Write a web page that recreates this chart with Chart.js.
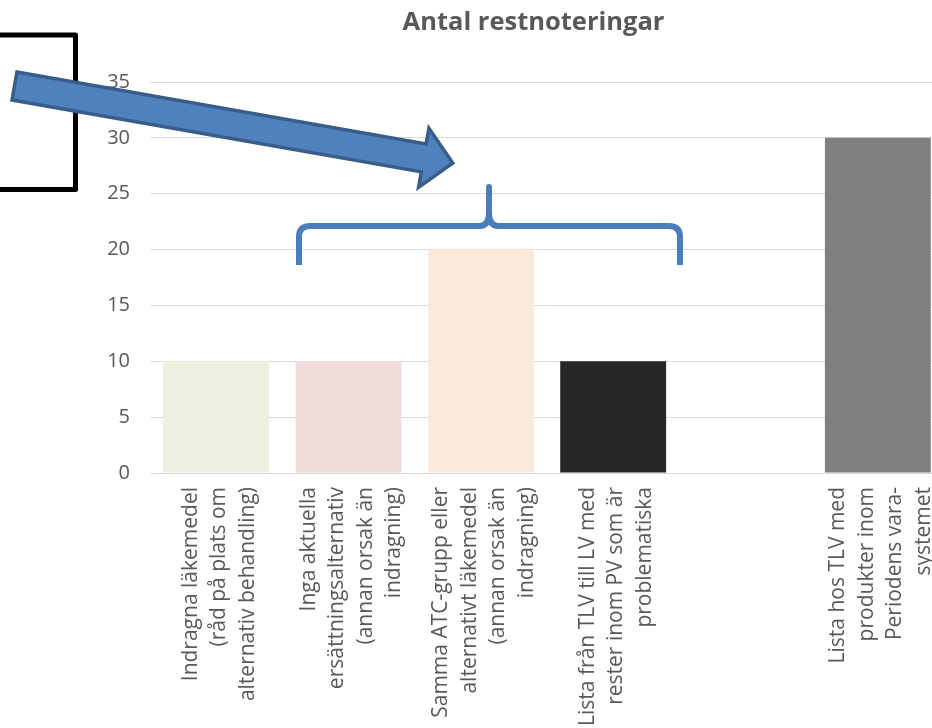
<!DOCTYPE html>
<html>
<head>
<meta charset="utf-8">
<title>Antal restnoteringar</title>
<script src="https://cdn.jsdelivr.net/npm/chart.js@4/dist/chart.umd.min.js"></script>
<style>
  html, body { margin: 0; padding: 0; background: #ffffff; overflow: hidden; }
  #wrap { position: relative; width: 932px; height: 728px; overflow: hidden; }
  #wrap canvas { position: absolute; left: 0; top: 0; }
</style>
</head>
<body>
<div id="wrap"><canvas id="chart" width="960" height="728"></canvas></div>
<script>
// Category labels, one entry per bar, already broken into lines
const categories = [
  ['Indragna läkemedel', '(råd på plats om', 'alternativ behandling)'],
  ['Inga aktuella', 'ersättningsalternativ', '(annan orsak än', 'indragning)'],
  ['Samma ATC-grupp eller', 'alternativt läkemedel', '(annan orsak än', 'indragning)'],
  ['Lista från TLV till LV med', 'rester inom PV som är', 'problematiska'],
  [],
  ['Lista hos TLV med', 'produkter inom', 'Periodens vara-', 'systemet']
];

// Number of shortage notices per category (the fifth slot is left empty)
const values = [10, 10, 20, 10, null, 30];

// Fill colour of each bar
const barColors = ['#ebf1de', '#f2dcdb', '#fde9d9', '#262626', '#ffffff', '#7f7f7f'];

// Value axis
const yMin = 0;
const yMax = 35;
const yStep = 5;

const chartTitle = 'Antal restnoteringar';

const TEXT_GREY = '#595959';
const FONT = '"Open Sans", "DejaVu Sans", sans-serif';

// Chart heading, centred over the slide area rather than the plot area
const heading = {
  id: 'heading',
  afterDraw(chart) {
    const ctx = chart.ctx;
    ctx.save();
    ctx.font = 'bold 25.5px ' + FONT;
    ctx.fillStyle = TEXT_GREY;
    ctx.textAlign = 'center';
    ctx.textBaseline = 'middle';
    ctx.fillText(chartTitle, 533.5, 23);
    ctx.restore();
  }
};

// Rotated, multi-line category labels centred under each bar
const categoryLabels = {
  id: 'categoryLabels',
  afterDraw(chart) {
    const ctx = chart.ctx;
    const xs = chart.scales.x;
    const lineH = 28.6;
    ctx.save();
    ctx.font = '21px ' + FONT;
    ctx.fillStyle = TEXT_GREY;
    ctx.textAlign = 'right';
    ctx.textBaseline = 'alphabetic';
    categories.forEach((lines, i) => {
      const cx = xs.getPixelForValue(i);
      const n = lines.length;
      lines.forEach((line, j) => {
        const bx = cx + 9 + (j - (n - 1) / 2) * lineH;
        ctx.save();
        ctx.translate(bx, xs.top + 14);
        ctx.rotate(-Math.PI / 2);
        ctx.fillText(line, 0, 0);
        ctx.restore();
      });
    });
    ctx.restore();
  }
};

// Slide callouts drawn on top of the chart: frame, block arrow and brace
const callouts = {
  id: 'callouts',
  afterDraw(chart) {
    const ctx = chart.ctx;

    // black frame running off the left edge
    ctx.save();
    ctx.strokeStyle = '#000000';
    ctx.lineWidth = 5;
    ctx.lineJoin = 'round';
    ctx.strokeRect(-20, 35, 95.5, 154.5);
    ctx.restore();

    // block arrow
    ctx.save();
    ctx.translate(14.5, 86);
    ctx.rotate(Math.atan2(77, 438.5));
    const L = 445, headLen = 29.5, shaftHalf = 14.2, headHalf = 30;
    ctx.beginPath();
    ctx.moveTo(0, -shaftHalf);
    ctx.lineTo(L - headLen, -shaftHalf);
    ctx.lineTo(L - headLen, -headHalf);
    ctx.lineTo(L, 0);
    ctx.lineTo(L - headLen, headHalf);
    ctx.lineTo(L - headLen, shaftHalf);
    ctx.lineTo(0, shaftHalf);
    ctx.closePath();
    ctx.fillStyle = '#4f81bd';
    ctx.fill();
    ctx.strokeStyle = '#385d8a';
    ctx.lineWidth = 3.5;
    ctx.lineJoin = 'miter';
    ctx.stroke();
    ctx.restore();

    // curly brace over the middle bars
    ctx.save();
    ctx.strokeStyle = '#4a7ebb';
    ctx.lineWidth = 6;
    ctx.lineJoin = 'round';
    ctx.lineCap = 'butt';
    ctx.beginPath();
    ctx.moveTo(299, 265);
    ctx.lineTo(299, 237);
    ctx.quadraticCurveTo(299, 226, 310, 226);
    ctx.lineTo(480, 226);
    ctx.quadraticCurveTo(489, 226, 489, 212);
    ctx.lineTo(489, 187);
    ctx.lineTo(489, 212);
    ctx.quadraticCurveTo(489, 226, 498, 226);
    ctx.lineTo(669, 226);
    ctx.quadraticCurveTo(680, 226, 680, 237);
    ctx.lineTo(680, 265);
    ctx.stroke();
    ctx.restore();
  }
};

new Chart(document.getElementById('chart'), {
  type: 'bar',
  data: {
    labels: categories,
    datasets: [{
      label: chartTitle,
      data: values,
      backgroundColor: barColors,
      borderWidth: 0,
      categoryPercentage: 1,
      barPercentage: 0.8
    }]
  },
  options: {
    responsive: false,
    animation: false,
    devicePixelRatio: 1,
    layout: { padding: { left: 93, right: 16, top: 82, bottom: 0 } },
    plugins: {
      legend: { display: false },
      tooltip: { enabled: false },
      title: { display: false }
    },
    scales: {
      x: {
        grid: { display: false, drawTicks: false },
        border: { display: false },
        ticks: { display: false },
        afterFit(scale) { scale.height = 255; }
      },
      y: {
        min: yMin,
        max: yMax,
        ticks: {
          stepSize: yStep,
          color: TEXT_GREY,
          padding: 20,
          font: { family: FONT, size: 20 }
        },
        grid: { color: '#d9d9d9', lineWidth: 1, drawTicks: false },
        border: { display: false },
        afterFit(scale) { scale.width = 57; }
      }
    }
  },
  plugins: [categoryLabels, callouts, heading]
});
</script>
</body>
</html>
